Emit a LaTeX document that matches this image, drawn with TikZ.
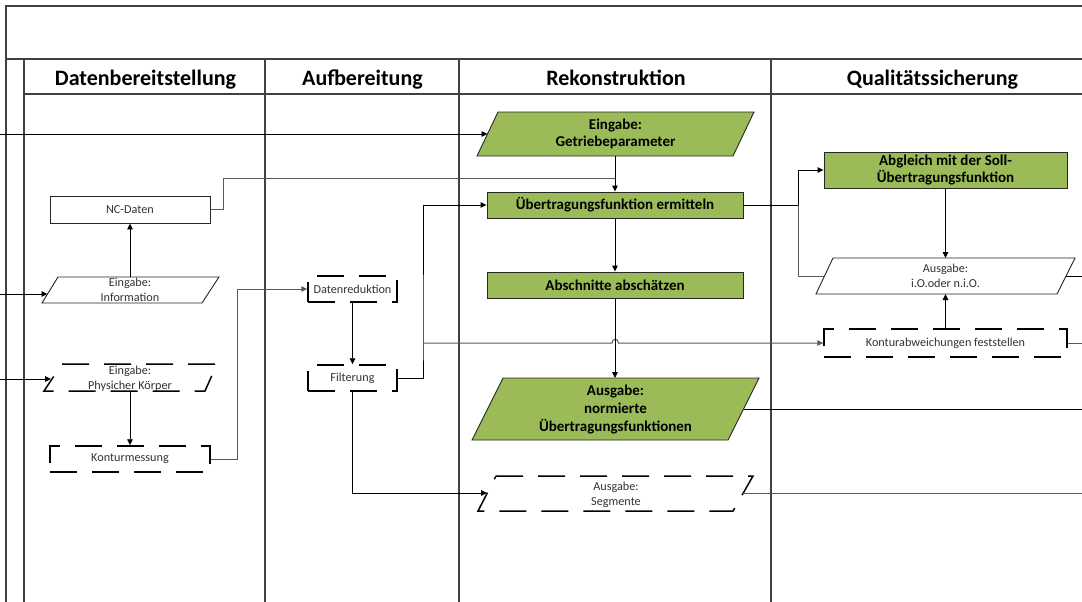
\documentclass[tikz,border=0pt]{standalone}
\usepackage{fontspec}
\setmainfont{Carlito}
\usetikzlibrary{arrows.meta,calc}
\definecolor{og}{HTML}{9BBB59}
\definecolor{lg}{HTML}{595959}
\definecolor{fr}{HTML}{404040}
\definecolor{tx}{HTML}{333333}
\begin{document}
\begin{tikzpicture}[x=1pt,y=-1pt,
 frame/.style={draw=fr,line width=1.3pt},
 conn/.style={draw=black,line width=0.9pt},
 conng/.style={draw=lg,line width=1pt},
 arr/.style={-{Triangle[length=6pt,width=5.5pt]}},
 small/.style={font=\fontsize{12.2}{15}\selectfont,align=center,text=tx,inner sep=0pt},
 bold/.style={font=\fontsize{15}{17.5}\selectfont\bfseries,align=center,inner sep=0pt},
 head/.style={font=\fontsize{22}{26}\selectfont\bfseries,inner sep=0pt,anchor=base},
 gbox/.style={draw=black!85,line width=0.9pt,fill=og},
 wbox/.style={draw=black!85,line width=0.9pt,fill=white},
 dbox/.style={draw=black,line width=1.5pt,dash pattern=on 27pt off 15pt,fill=white},
]
\useasboundingbox (0,0) rectangle (1082,602);

% frame
\draw[frame] (1082,6) -- (6,6) -- (6,602);
\draw[frame] (6,59) -- (1082,59);
\draw[frame] (24,94) -- (1082,94);
\draw[frame] (24,59) -- (24,602);
\foreach \x in {265,459,771} \draw[frame] (\x,59) -- (\x,602);

% headers
\node[head] (h1) at (145.5,85) {Datenbereitstellung};
\node[head] (h2) at (362.5,85) {Aufbereitung};
\node[head] (h3) at (616,85) {Rekonstruktion};
\node[head] (h4) at (932.5,85) {Qualitätssicherung};

% Datenbereitstellung
\node[wbox,small,minimum width=160pt,minimum height=27pt] (nc) at (130,209.5) {NC-Daten};
\draw[wbox] (58,277) -- (219,277) -- (202,303) -- (42,303) -- cycle;
\node[small] (info) at (130,290) {Eingabe:\\Information};
\coordinate (infoL) at (47.5,294);
\coordinate (infoT) at (130,277);
\draw[dbox] (62,364) -- (217,364) -- (205,391) -- (44,391) -- cycle;
\node[small] (pk) at (130,379) {Eingabe:\\Physicher Körper};
\coordinate (pkL) at (51,379);
\coordinate (pkB) at (130,391);
\node[dbox,small,minimum width=160pt,minimum height=26pt] (km) at (130,459) {Konturmessung};

% Aufbereitung
\node[dbox,small,minimum width=89pt,minimum height=26pt] (dr) at (352.5,289) {Datenreduktion};
\node[dbox,small,minimum width=89pt,minimum height=26pt] (fi) at (352.5,378) {Filterung};

% Rekonstruktion
\draw[gbox] (498,112) -- (754,112) -- (733,156) -- (477,156) -- cycle;
\node[bold] (gp) at (615.5,134) {Eingabe:\\Getriebeparameter};
\coordinate (gpL) at (487.5,134);
\coordinate (gpB) at (615,156);
\node[gbox,bold,minimum width=256pt,minimum height=26pt] (uf) at (615,205) {Übertragungsfunktion ermitteln};
\node[gbox,bold,minimum width=256pt,minimum height=26pt] (ab) at (615,285) {Abschnitte abschätzen};
\draw[gbox] (503,378) -- (759,378) -- (728,440) -- (472,440) -- cycle;
\node[bold,font=\fontsize{15}{18}\selectfont\bfseries] (no) at (615.5,410) {Ausgabe:\\normierte\\Übertragungsfunktionen};
\coordinate (noT) at (615,378);
\coordinate (noR) at (743.5,409);
\draw[dbox] (496,476) -- (753,476) -- (733,511) -- (478,511) -- cycle;
\node[small] (seg) at (616,495) {Ausgabe:\\Segmente};
\coordinate (segL) at (487,493);
\coordinate (segR) at (743,493);

% Qualitätssicherung
\node[gbox,bold,minimum width=243pt,minimum height=36pt] (ag) at (945.5,170) {Abgleich mit der Soll-\\Übertragungsfunktion};
\draw[wbox] (833,258) -- (1075,258) -- (1057,294) -- (816,294) -- cycle;
\node[small] (io) at (945.5,276) {Ausgabe:\\i.O.oder n.i.O.};
\coordinate (ioL) at (824.5,276);
\coordinate (ioR) at (1066,276);
\coordinate (ioT) at (945.5,258);
\coordinate (ioB) at (945.5,294);
\node[dbox,small,minimum width=243pt,minimum height=28pt] (ka) at (945.5,343) {Konturabweichungen feststellen};

% free ends
\coordinate (inA) at (0,134);
\coordinate (inB) at (0,294);
\coordinate (inC) at (0,379);
\coordinate (outA) at (1082,276);
\coordinate (outB) at (1082,343);
\coordinate (outC) at (1082,409);
\coordinate (outD) at (1082,493);
\coordinate (br) at (423,343);
\coordinate (sp) at (798,205);

% connectors
\draw[conn,arr] (inA) -- (gpL);
\draw[conn,arr] (inB) -- (infoL);
\draw[conn,arr] (inC) -- (pkL);
\draw[conn,arr] (infoT) -- (nc.south);
\draw[conn,arr] (pkB) -- (km.north);
\draw[conng,arr] (km.east) -| (237,289) -- (dr.west);
\draw[conn,arr] (dr.south) -- (fi.north);
\draw[conn,arr] (fi.east) -| (br) |- (uf.west);
\draw[conng,arr] (br) -- (612,343) .. controls (612,338) and (618.5,338) .. (618.5,343) -- (ka.west);
\draw[conn,arr] (fi.south) |- (segL);
\draw[conng] (nc.east) -- ++(13,0) |- (615,178.5);
\draw[conn,arr] (gpB) -- (uf.north);
\draw[conn,arr] (uf.south) -- (ab.north);
\draw[conn,arr] (ab.south) -- (noT);
\draw[conn,arr] (uf.east) -- (sp) |- (ag.west);
\draw[conng] (sp) |- (ioL);
\draw[conn,arr] (ag.south) -- (ioT);
\draw[conn,arr] (ka.north) -- (ioB);
\draw[conn] (ioR) -- (outA);
\draw[conng] (ka.east) -- (outB);
\draw[conn] (noR) -- (outC);
\draw[conng] (segR) -- (outD);
\end{tikzpicture}
\end{document}
